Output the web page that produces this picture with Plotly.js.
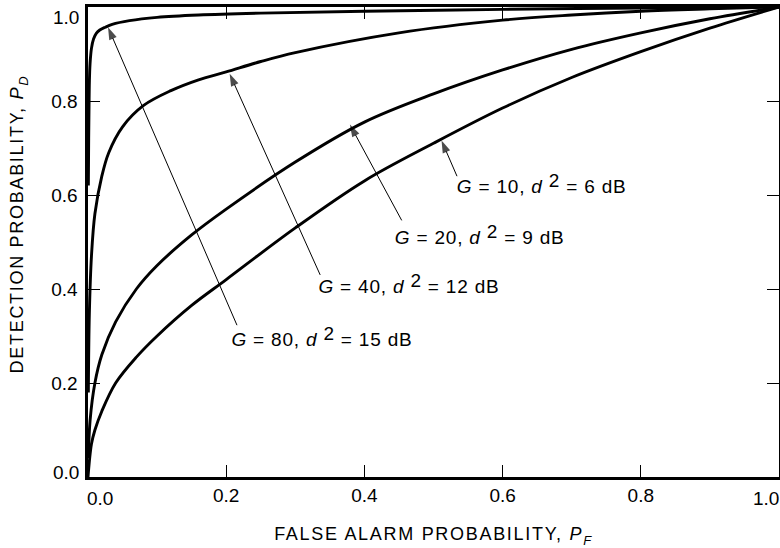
<!DOCTYPE html>
<html>
<head>
<meta charset="utf-8">
<script src="https://cdn.plot.ly/plotly-3.0.1.min.js"></script>
<style>
  html, body { margin: 0; padding: 0; background: #fff; }
  #chart { width: 780px; height: 548px; }
  .xtitle, .annotation-text.axis-title { letter-spacing: 1.7px; }
  .annotation-text.curve-label { letter-spacing: 0.8px; }
</style>
</head>
<body>
<div id="chart"></div>
<script>
// ROC curves: detection probability vs false alarm probability

// G = 80, d^2 = 15 dB
const pfG80 = [0.0005, 0.001, 0.0015, 0.002, 0.003, 0.005, 0.008, 0.012, 0.017, 0.025, 0.035, 0.06, 0.1, 0.16, 0.25, 0.4, 0.6, 0.8, 1.0];
const pdG80 = [0.62, 0.72, 0.79, 0.84, 0.88, 0.912, 0.932, 0.944, 0.951, 0.957, 0.963, 0.971, 0.978, 0.983, 0.987, 0.991, 0.995, 0.998, 1.0];

// G = 40, d^2 = 12 dB
const pfG40 = [0.0005, 0.002, 0.005, 0.01, 0.02, 0.03, 0.05, 0.08, 0.12, 0.16, 0.2, 0.25, 0.3, 0.45, 0.6, 0.7, 0.8, 0.9, 1.0];
const pdG40 = [0.18, 0.35, 0.47, 0.56, 0.64, 0.69, 0.745, 0.79, 0.822, 0.845, 0.862, 0.884, 0.903, 0.945, 0.972, 0.983, 0.991, 0.996, 1.0];

// G = 20, d^2 = 9 dB
const pfG20 = [0.0005, 0.003, 0.01, 0.02, 0.04, 0.07, 0.1, 0.15, 0.2, 0.3, 0.4, 0.5, 0.6, 0.7, 0.8, 0.9, 1.0];
const pdG20 = [0.04, 0.12, 0.2, 0.26, 0.33, 0.4, 0.45, 0.515, 0.57, 0.67, 0.755, 0.815, 0.866, 0.91, 0.945, 0.975, 1.0];

// G = 10, d^2 = 6 dB
const pfG10 = [0.0, 0.005, 0.01, 0.02, 0.04, 0.07, 0.1, 0.15, 0.2, 0.3, 0.4, 0.5, 0.6, 0.7, 0.8, 0.9, 1.0];
const pdG10 = [0.0, 0.07, 0.1, 0.14, 0.2, 0.255, 0.3, 0.365, 0.42, 0.53, 0.63, 0.71, 0.785, 0.85, 0.905, 0.955, 1.0];

// Raised exponent and lowered index, kept at readable sizes
const SUP2 = "<span style=\"baseline-shift:6px\">2</span>";
const subIdx = (s) => "<span style=\"baseline-shift:-5px;font-size:13px\"><i>" + s + "</i></span>";

// Curve labels: text, label anchor (left, middle) and arrow tail/head in data units
const labelText = [
  "<i>G</i> = 80, <i>d</i> " + SUP2 + " = 15 dB",
  "<i>G</i> = 40, <i>d</i> " + SUP2 + " = 12 dB",
  "<i>G</i> = 20, <i>d</i> " + SUP2 + " = 9 dB",
  "<i>G</i> = 10, <i>d</i> " + SUP2 + " = 6 dB"
];
const labelX = [0.2156, 0.3415, 0.4515, 0.541];
const labelY = [0.300, 0.412, 0.517, 0.6255];
const arrowTailX = [0.2156, 0.336, 0.454, 0.534];
const arrowTailY = [0.323, 0.43, 0.546, 0.64];
const arrowHeadX = [0.029, 0.205, 0.379, 0.5116];
const arrowHeadY = [0.957, 0.858, 0.75, 0.716];

// Axis tick labels
const tickVals = [0.2, 0.4, 0.6, 0.8];
const tickText = ["0.2", "0.4", "0.6", "0.8"];
const endVals = [0.0, 1.0];
const endText = ["0.0", "1.0"];

const FONT = "Arial, 'Liberation Sans', Helvetica, sans-serif";

const curveLine = { color: "#000", width: 2.9, shape: "spline", smoothing: 1 };
const traces = [
  [pfG80, pdG80], [pfG40, pdG40], [pfG20, pdG20], [pfG10, pdG10]
].map(([x, y]) => ({
  type: "scatter", mode: "lines", x: x, y: y,
  line: curveLine, hoverinfo: "skip", showlegend: false
}));

// pointer arrows from each label to its curve
for (let i = 0; i < labelText.length; i++) {
  traces.push({
    type: "scatter", mode: "lines+markers",
    x: [arrowTailX[i], arrowHeadX[i]], y: [arrowTailY[i], arrowHeadY[i]],
    line: { color: "#000", width: 1 },
    marker: { symbol: "arrow", size: [0, 13], angleref: "previous", color: "#000",
              line: { width: 0 } },
    hoverinfo: "skip", showlegend: false, cliponaxis: false
  });
}

const annotations = [];
for (let i = 0; i < labelText.length; i++) {
  annotations.push({
    x: labelX[i], y: labelY[i], xref: "x", yref: "y",
    text: labelText[i], showarrow: false,
    xanchor: "left", yanchor: "middle",
    font: { family: FONT, size: 19, color: "#000" }
  });
}
// end tick labels sit inside the frame
annotations.push(
  { x: endVals[0], y: 0, xref: "x", yref: "paper", text: endText[0], showarrow: false,
    xanchor: "center", yanchor: "top", xshift: 12, yshift: -9,
    font: { family: FONT, size: 19, color: "#000" } },
  { x: endVals[1], y: 0, xref: "x", yref: "paper", text: endText[1], showarrow: false,
    xanchor: "center", yanchor: "top", xshift: -13, yshift: -9,
    font: { family: FONT, size: 19, color: "#000" } },
  { x: 0, y: endVals[0], xref: "paper", yref: "y", text: endText[0], showarrow: false,
    xanchor: "right", yanchor: "middle", xshift: -7, yshift: 5,
    font: { family: FONT, size: 19, color: "#000" } },
  { x: 0, y: endVals[1], xref: "paper", yref: "y", text: endText[1], showarrow: false,
    xanchor: "right", yanchor: "middle", xshift: -7, yshift: -10,
    font: { family: FONT, size: 19, color: "#000" } },
  // vertical axis title
  { x: 0, y: 0.538, xref: "paper", yref: "paper", xanchor: "center", yanchor: "middle",
    xshift: -69, textangle: -90, showarrow: false, captureevents: false,
    text: "DETECTION PROBABILITY, <i>P</i>" + subIdx("D"),
    font: { family: FONT, size: 18, color: "#000" } }
);

const axisCommon = {
  showgrid: false, zeroline: false,
  showline: true, linecolor: "#000", linewidth: 2.6, mirror: "ticks",
  ticks: "inside", ticklen: 12, tickwidth: 1, tickcolor: "#000",
  tickfont: { family: FONT, size: 19, color: "#000" },
  tickmode: "array", tickvals: tickVals, ticktext: tickText,
  fixedrange: true
};

const layout = {
  width: 780, height: 548,
  margin: { l: 88, r: 1, t: 7, b: 71 },
  paper_bgcolor: "#fff", plot_bgcolor: "#fff",
  showlegend: false,
  xaxis: Object.assign({}, axisCommon, {
    range: [0, 1],
    title: { text: "FALSE ALARM PROBABILITY, <i>P</i>" + subIdx("F"),
             font: { family: FONT, size: 18, color: "#000" }, standoff: 26 }
  }),
  yaxis: Object.assign({}, axisCommon, {
    range: [0, 1], ticklabelstandoff: 4
  }),
  annotations: annotations
};

Plotly.newPlot("chart", traces, layout, { staticPlot: true, displayModeBar: false }).then(() => {
  document.querySelectorAll(".annotation-text").forEach(el => {
    const t = el.textContent;
    if (t.indexOf("DETECTION") === 0) el.classList.add("axis-title");
    else if (t.indexOf("G") === 0) el.classList.add("curve-label");
  });
});
</script>
</body>
</html>
